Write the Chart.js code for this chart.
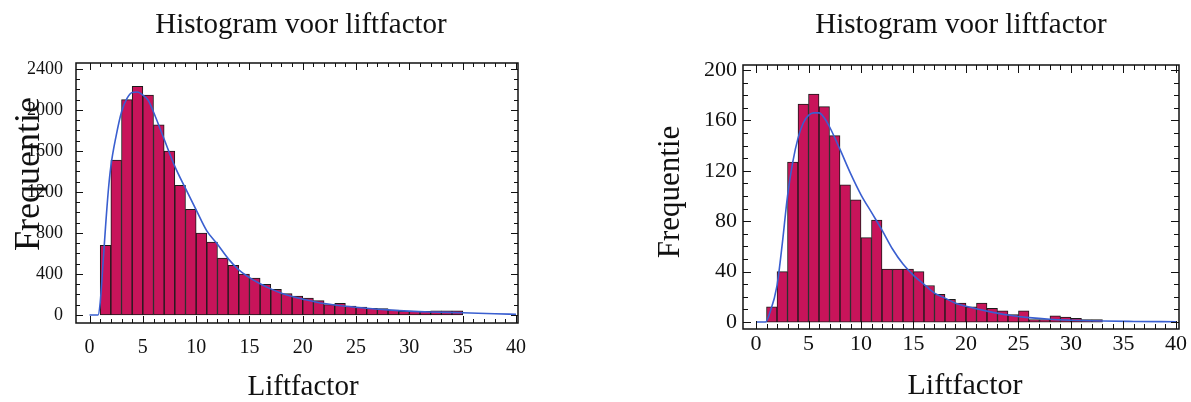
<!DOCTYPE html>
<html>
<head>
<meta charset="utf-8">
<script src="https://cdn.jsdelivr.net/npm/chart.js@4.4.1/dist/chart.umd.min.js"></script>
<style>
    body { margin: 0; background: #fff; }
    .wrap { position: absolute; top: 0; height: 402px; }
    #leftWrap { left: 0; width: 595px; }
    #rightWrap { left: 595px; width: 596px; }
</style>
</head>
<body>
<div class="wrap" id="leftWrap"><canvas id="leftChart"></canvas></div>
<div class="wrap" id="rightWrap"><canvas id="rightChart"></canvas></div>
<script>
// left histogram: bins of width 1 starting at these values
const leftBins = [1, 2, 3, 4, 5, 6, 7, 8, 9, 10, 11, 12, 13, 14, 15, 16, 17,
    18, 19, 20, 21, 22, 23, 24, 25, 26, 27, 28, 29, 30, 31, 32, 33, 34];
const leftCounts = [680, 1510, 2100, 2230, 2145, 1855, 1600, 1265, 1030, 800, 712, 556, 484, 400, 360, 300, 250,
    210, 185, 165, 140, 102, 114, 88, 78, 65, 62, 49, 37, 35, 35, 40, 40, 40];
const leftCurveX = [0, 0.8, 1, 1.25, 1.5, 1.75, 2, 2.5, 3, 3.5, 4, 4.5, 5, 5.5, 6, 7, 8, 9, 10,
    11, 12, 13, 14, 15, 16, 17, 18, 19, 20, 22, 24, 26, 28, 30, 32, 35, 38, 40];
const leftCurveY = [0, 0, 120, 480, 860, 1200, 1450, 1750, 1980, 2110, 2170, 2175, 2145, 2095, 1980, 1715, 1450, 1235, 1025,
    820, 690, 550, 440, 365, 305, 255, 212, 180, 155, 112, 85, 66, 50, 38, 30, 22, 12, 7];

// right histogram
const rightBins = [1, 2, 3, 4, 5, 6, 7, 8, 9, 10, 11, 12, 13, 14, 15, 16,
    17, 18, 19, 20, 21, 22, 23, 24, 25, 26, 27, 28, 29, 30, 31, 32];
const rightCounts = [12, 40, 127, 173, 181, 171, 148, 109, 97, 67, 81, 42, 42, 42, 40, 29,
    22, 18, 15, 12, 15, 11, 9, 6, 9, 2, 2, 5, 4, 3, 2, 2];
const rightCurveX = [0, 0.9, 1.3, 2, 2.5, 3, 3.5, 4, 4.5, 5, 5.5, 6, 6.5, 7, 8, 9, 10, 11, 12,
    13, 14, 15, 16, 17, 18, 19, 20, 22, 24, 26, 28, 30, 33, 36, 40];
const rightCurveY = [0, 0, 7, 29, 62, 100, 127, 146, 158, 164, 166, 166, 162, 155, 137, 118, 101, 87, 73,
    58, 46, 37, 30, 23, 19, 15, 12.5, 8.7, 5.6, 3.5, 2.2, 1.5, 0.8, 0.5, 0.3];

const xTicks = [0, 5, 10, 15, 20, 25, 30, 35, 40];
const leftYTicks = [0, 400, 800, 1200, 1600, 2000, 2400];
const rightYTicks = [0, 40, 80, 120, 160, 200];

const titleText = 'Histogram voor liftfactor';
const xTitleText = 'Liftfactor';
const yTitleText = 'Frequentie';

const barColor = '#C8145A';
const lineColor = '#3A5FD0';
const serif = "'Liberation Serif', 'Times New Roman', serif";

// box around the plot, inward tick marks on all four sides, and the texts
const framePlugin = {
    id: 'frame',
    afterDatasetsDraw(chart, args, opts) {
        const { ctx, chartArea: a } = chart;
        const x = chart.scales.x;
        const y = chart.scales.y;
        ctx.save();
        ctx.strokeStyle = '#111';
        ctx.lineWidth = 1;
        ctx.beginPath();
        for (let v = 0; v <= opts.xEnd; v += opts.xMinor) {
            const px = Math.round(x.getPixelForValue(v)) + 0.5;
            const len = v % opts.xMajor === 0 ? opts.majorLen : opts.minorLen;
            ctx.moveTo(px, a.bottom); ctx.lineTo(px, a.bottom - len);
            ctx.moveTo(px, a.top); ctx.lineTo(px, a.top + len);
        }
        for (let v = 0; v <= opts.yEnd; v += opts.yMinor) {
            const py = Math.round(y.getPixelForValue(v)) + 0.5;
            const len = v % opts.yMajor === 0 ? opts.majorLen : opts.minorLen;
            ctx.moveTo(a.left, py); ctx.lineTo(a.left + len, py);
            ctx.moveTo(a.right, py); ctx.lineTo(a.right - len, py);
        }
        ctx.stroke();
        ctx.lineWidth = 1.5;
        ctx.strokeRect(a.left, a.top, a.right - a.left, a.bottom - a.top);

        ctx.fillStyle = '#111';
        ctx.textAlign = 'center';
        ctx.textBaseline = 'middle';
        ctx.font = opts.title.size + 'px ' + serif;
        ctx.fillText(titleText, opts.title.x, opts.title.y);
        ctx.font = opts.xTitle.size + 'px ' + serif;
        ctx.fillText(xTitleText, opts.xTitle.x, opts.xTitle.y);
        ctx.translate(opts.yTitle.x, opts.yTitle.y);
        ctx.rotate(-Math.PI / 2);
        ctx.font = opts.yTitle.size + 'px ' + serif;
        ctx.fillText(yTitleText, 0, 0);
        ctx.restore();
    }
};

function buildChart(canvasId, cfg) {
    const ctx = document.getElementById(canvasId).getContext('2d');
    return new Chart(ctx, {
        type: 'bar',
        data: {
            datasets: [{
                type: 'line',
                data: cfg.curveX.map((v, i) => ({ x: v, y: cfg.curveY[i] })),
                borderColor: lineColor,
                borderWidth: 1.6,
                pointRadius: 0,
                cubicInterpolationMode: 'monotone',
                order: 1
            }, {
                type: 'bar',
                data: cfg.bins.map((b, i) => ({ x: b + 0.5, y: cfg.counts[i] })),
                backgroundColor: barColor,
                borderColor: '#1a1a1a',
                borderWidth: 1,
                borderSkipped: false,
                barPercentage: 1,
                categoryPercentage: 1,
                order: 2
            }]
        },
        options: {
            responsive: true,
            maintainAspectRatio: false,
            animation: false,
            layout: { padding: cfg.padding },
            plugins: {
                legend: { display: false },
                tooltip: { enabled: false },
                frame: cfg.frame
            },
            scales: {
                x: {
                    type: 'linear',
                    offset: false,
                    min: cfg.xMin,
                    max: cfg.xMax,
                    grid: { display: false, drawTicks: false },
                    border: { display: false },
                    afterBuildTicks: scale => { scale.ticks = xTicks.map(v => ({ value: v })); },
                    afterFit: scale => { scale.height = cfg.xHeight; },
                    ticks: {
                        color: '#111',
                        padding: cfg.xPad,
                        maxRotation: 0,
                        callback: v => String(v),
                        font: { family: serif, size: cfg.xFont }
                    }
                },
                y: {
                    min: cfg.yMin,
                    max: cfg.yMax,
                    grid: { display: false, drawTicks: false },
                    border: { display: false },
                    afterBuildTicks: scale => { scale.ticks = cfg.yTicks.map(v => ({ value: v })); },
                    afterFit: scale => { scale.width = cfg.yWidth; },
                    ticks: {
                        color: '#111',
                        padding: cfg.yPad,
                        callback: v => String(v),
                        font: { family: serif, size: cfg.yFont }
                    }
                }
            }
        },
        plugins: [framePlugin]
    });
}

buildChart('leftChart', {
    bins: leftBins, counts: leftCounts, curveX: leftCurveX, curveY: leftCurveY,
    yTicks: leftYTicks,
    xMin: -1.27, xMax: 40.19, yMin: -78, yMax: 2458,
    padding: { left: 0, top: 63, right: 77, bottom: 0 },
    xHeight: 79, yWidth: 76, xPad: 13, yPad: 13, xFont: 20, yFont: 18,
    frame: {
        xEnd: 40, xMinor: 1, xMajor: 5, yEnd: 2400, yMinor: 100, yMajor: 400,
        majorLen: 7, minorLen: 4,
        title: { x: 301, y: 25, size: 29 },
        xTitle: { x: 303, y: 387, size: 29 },
        yTitle: { x: 30, y: 174, size: 36 }
    }
});

buildChart('rightChart', {
    bins: rightBins, counts: rightCounts, curveX: rightCurveX, curveY: rightCurveY,
    yTicks: rightYTicks,
    xMin: -1.24, xMax: 40.29, yMin: -5.5, yMax: 204,
    padding: { left: 0, top: 65, right: 12, bottom: 0 },
    xHeight: 73, yWidth: 148, xPad: 2, yPad: 6, xFont: 22, yFont: 22,
    frame: {
        xEnd: 40, xMinor: 1, xMajor: 5, yEnd: 200, yMinor: 10, yMajor: 40,
        majorLen: 8, minorLen: 5,
        title: { x: 366, y: 25, size: 29 },
        xTitle: { x: 370, y: 386, size: 30 },
        yTitle: { x: 76, y: 192, size: 31 }
    }
});
</script>
</body>
</html>
